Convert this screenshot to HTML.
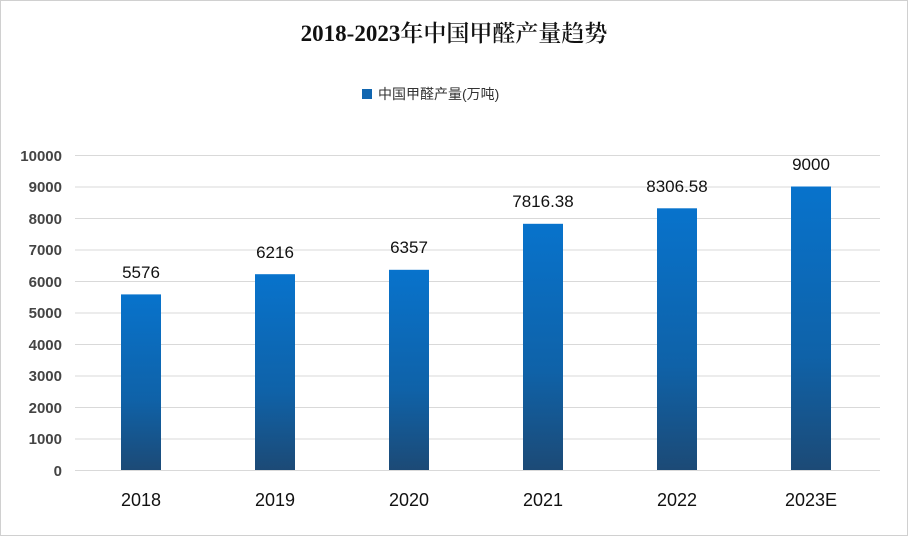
<!DOCTYPE html>
<html><head><meta charset="utf-8"><style>
body{margin:0;background:#fff}
svg{display:block}
text{font-family:"Liberation Sans","Noto Sans CJK SC",sans-serif}
</style></head><body>
<svg width="908" height="536" viewBox="0 0 908 536" xmlns="http://www.w3.org/2000/svg">
<defs>
<linearGradient id="g" x1="0" y1="0" x2="0" y2="1">
<stop offset="0" stop-color="#0873cc"/>
<stop offset="0.6" stop-color="#0f62a8"/>
<stop offset="1" stop-color="#1c4a76"/>
</linearGradient>
</defs>
<rect x="0.5" y="0.5" width="907" height="535" fill="#fff" stroke="#d0d0d0"/>
<text x="454" y="41" text-anchor="middle" font-size="23" fill="#111" style="font-family:'Liberation Serif','Noto Serif CJK SC',serif;font-weight:600">2018-2023年中国甲醛产量趋势</text>
<rect x="362" y="89" width="10" height="10" fill="#1166b0"/>
<text x="378" y="99" font-size="14" fill="#333">中国甲醛产量(万吨)</text>
<g stroke="#d9d9d9" stroke-width="1">
<line x1="75" x2="880" y1="155.5" y2="155.5"/>
<line x1="75" x2="880" y1="187" y2="187"/>
<line x1="75" x2="880" y1="218.5" y2="218.5"/>
<line x1="75" x2="880" y1="250" y2="250"/>
<line x1="75" x2="880" y1="281.5" y2="281.5"/>
<line x1="75" x2="880" y1="313" y2="313"/>
<line x1="75" x2="880" y1="344.5" y2="344.5"/>
<line x1="75" x2="880" y1="376" y2="376"/>
<line x1="75" x2="880" y1="407.5" y2="407.5"/>
<line x1="75" x2="880" y1="439" y2="439"/>
<line x1="75" x2="880" y1="470.5" y2="470.5"/>
</g>
<g font-size="15" font-weight="bold" fill="#444" text-anchor="end">
<text x="62" y="161">10000</text><text x="62" y="192">9000</text><text x="62" y="224">8000</text>
<text x="62" y="255">7000</text><text x="62" y="287">6000</text><text x="62" y="318">5000</text>
<text x="62" y="350">4000</text><text x="62" y="381">3000</text><text x="62" y="413">2000</text>
<text x="62" y="444">1000</text><text x="62" y="476">0</text>
</g>
<g fill="url(#g)">
<rect x="121" y="294.4" width="40" height="175.6"/>
<rect x="255" y="274.2" width="40" height="195.8"/>
<rect x="389" y="269.8" width="40" height="200.2"/>
<rect x="523" y="223.8" width="40" height="246.2"/>
<rect x="657" y="208.3" width="40" height="261.7"/>
<rect x="791" y="186.5" width="40" height="283.5"/>
</g>
<g font-size="17" fill="#111" text-anchor="middle">
<text x="141" y="278">5576</text><text x="275" y="258">6216</text><text x="409" y="253">6357</text>
<text x="543" y="207">7816.38</text><text x="677" y="192">8306.58</text><text x="811" y="170">9000</text>
</g>
<g font-size="18" fill="#111" text-anchor="middle">
<text x="141" y="506">2018</text><text x="275" y="506">2019</text><text x="409" y="506">2020</text>
<text x="543" y="506">2021</text><text x="677" y="506">2022</text><text x="811" y="506">2023E</text>
</g>
</svg>
</body></html>
